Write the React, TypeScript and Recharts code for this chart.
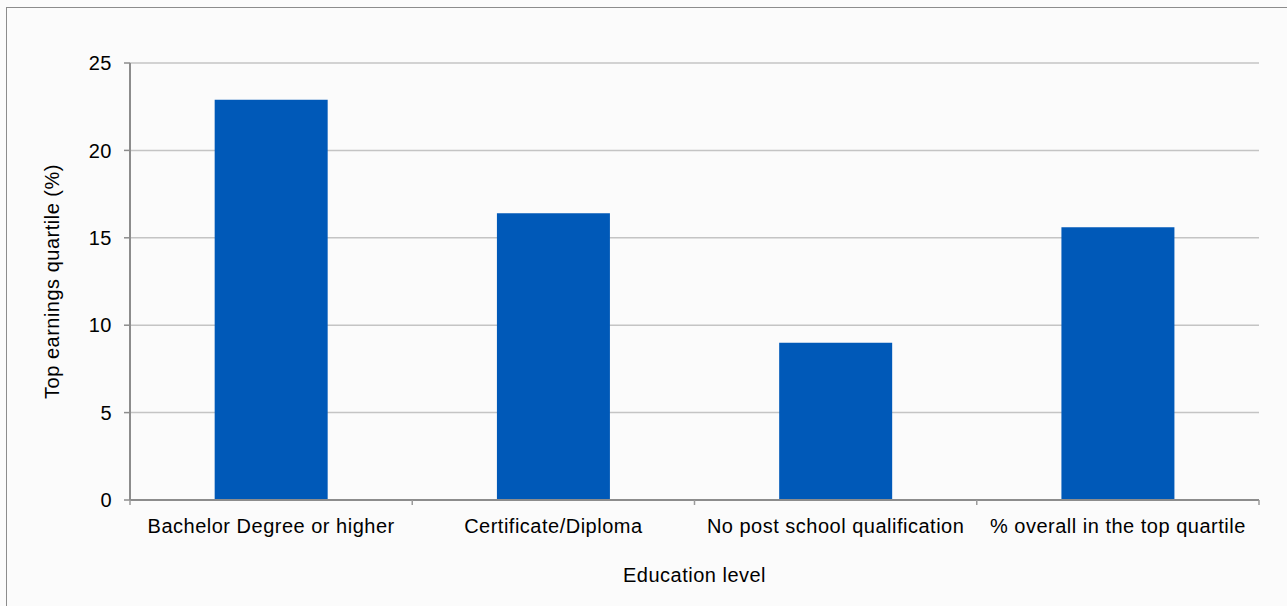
import { BarChart, Bar, XAxis, YAxis, CartesianGrid, Label } from 'recharts';

const categories = [
  'Bachelor Degree or higher',
  'Certificate/Diploma',
  'No post school qualification',
  '% overall in the top quartile'
];
const topQuartile = [22.9, 16.4, 9.0, 15.6];
const yTicks = [0, 5, 10, 15, 20, 25];

const data = categories.map((name, i) => ({ name, value: topQuartile[i] }));

const W = 1287;
const H = 606;
const margin = { top: 63, right: 28, left: 20, bottom: 46 };
const Y_AXIS_W = 110;
const plotWidth = W - margin.left - Y_AXIS_W - margin.right;
const halfBand = plotWidth / categories.length / 2;

const font = { fontFamily: 'Liberation Sans, Arial, sans-serif', fontSize: 20, letterSpacing: 0.5 };

function EduTick(props: any) {
  const { x, y, payload, index } = props;
  return (
    <g>
      <line x1={x - halfBand} x2={x - halfBand} y1={y} y2={y + 5} stroke="#9a9a9a" strokeWidth={1.5} />
      {index === categories.length - 1 && (
        <line x1={x + halfBand} x2={x + halfBand} y1={y} y2={y + 5} stroke="#9a9a9a" strokeWidth={1.5} />
      )}
      <text x={x} y={y + 33} textAnchor="middle" fill="#000" style={font}>
        {payload.value}
      </text>
    </g>
  );
}

export default function App() {
  return (
    <div style={{ position: 'absolute', left: 0, top: 0, width: W, height: H, background: '#fbfbfb', overflow: 'hidden' }}>
      <div
        style={{
          position: 'absolute',
          left: 6,
          top: 7,
          width: W + 40,
          height: H + 40,
          border: '1.5px solid #8c8c8c'
        }}
      />
      <div style={{ position: 'absolute', left: 0, top: 0 }}>
        <BarChart width={W} height={H} data={data} margin={margin} barCategoryGap="30%">
          <CartesianGrid vertical={false} stroke="#c4c4c4" strokeWidth={1.5} />
          <XAxis
            dataKey="name"
            tick={<EduTick />}
            tickLine={false}
            tickSize={0}
            tickMargin={0}
            height={60}
            axisLine={{ stroke: '#8c8c8c', strokeWidth: 2 }}
            interval={0}
          >
            <Label
              content={() => (
                <text x={margin.left + Y_AXIS_W + plotWidth / 2} y={582} textAnchor="middle" fill="#000" style={font}>
                  Education level
                </text>
              )}
            />
          </XAxis>
          <YAxis
            domain={[0, 25]}
            ticks={yTicks}
            width={Y_AXIS_W}
            tickSize={6}
            tickMargin={12}
            tickLine={{ stroke: '#8c8c8c', strokeWidth: 1.5 }}
            axisLine={{ stroke: '#8c8c8c', strokeWidth: 2 }}
            tick={{ fill: '#000', ...font }}
            interval={0}
          >
            <Label
              content={(p: any) => {
                const vb = p.viewBox;
                const cx = vb.x + 32;
                const cy = vb.y + vb.height / 2;
                return (
                  <text x={cx} y={cy} transform={`rotate(-90, ${cx}, ${cy})`} textAnchor="middle" dominantBaseline="central" fill="#000" style={font}>
                    Top earnings quartile (%)
                  </text>
                );
              }}
            />
          </YAxis>
          <YAxis
            yAxisId="r"
            orientation="right"
            domain={[0, 25]}
            width={0}
            tick={false}
            tickLine={false}
            axisLine={{ stroke: '#c4c4c4', strokeWidth: 2 }}
          />
          <Bar dataKey="value" fill="#0059b8" isAnimationActive={false} />
        </BarChart>
      </div>
    </div>
  );
}
